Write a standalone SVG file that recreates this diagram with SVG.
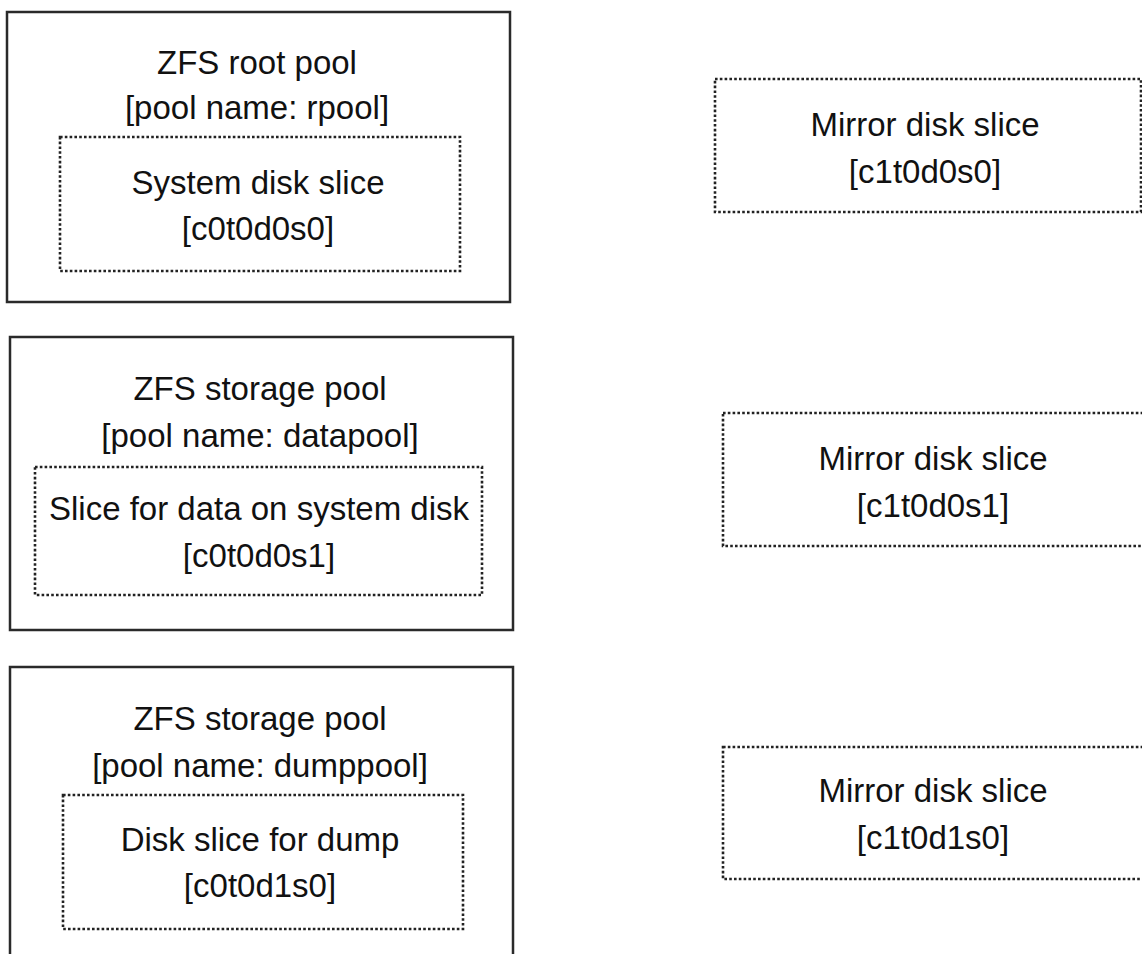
<svg xmlns="http://www.w3.org/2000/svg" width="1142" height="954" viewBox="0 0 1142 954">
  <style>
    .pool { fill: #ffffff; stroke: #2a2a2a; stroke-width: 2.5; }
    .slice { fill: none; stroke: #222222; stroke-width: 2.6; stroke-dasharray: 2.6 2.2; }
    .t { font-family: "Liberation Sans", Arial, sans-serif; font-size: 33px; fill: #111111; text-anchor: middle; }
  </style>
  <rect x="0" y="0" width="1142" height="954" fill="#ffffff"/>
  <g id="rpool">
    <rect class="pool" x="7" y="12" width="503" height="290"/>
    <text class="t" x="257" y="74">ZFS root pool</text>
    <text class="t" x="257" y="119">[pool name: rpool]</text>
  </g>
  <g id="slice-c0t0d0s0">
    <rect class="slice" x="60" y="137" width="400" height="134"/>
    <text class="t" x="258" y="194">System disk slice</text>
    <text class="t" x="258" y="240">[c0t0d0s0]</text>
  </g>
  <g id="datapool">
    <rect class="pool" x="10" y="337" width="503" height="293"/>
    <text class="t" x="260" y="400">ZFS storage pool</text>
    <text class="t" x="260" y="447">[pool name: datapool]</text>
  </g>
  <g id="slice-c0t0d0s1">
    <rect class="slice" x="35" y="467" width="447" height="128"/>
    <text class="t" x="259" y="520">Slice for data on system disk</text>
    <text class="t" x="259" y="567">[c0t0d0s1]</text>
  </g>
  <g id="dumppool">
    <rect class="pool" x="10" y="667" width="503" height="320"/>
    <text class="t" x="260" y="730">ZFS storage pool</text>
    <text class="t" x="260" y="777">[pool name: dumppool]</text>
  </g>
  <g id="slice-c0t0d1s0">
    <rect class="slice" x="63" y="795" width="400" height="134"/>
    <text class="t" x="260" y="851">Disk slice for dump</text>
    <text class="t" x="260" y="897">[c0t0d1s0]</text>
  </g>
  <g id="mirror-c1t0d0s0">
    <rect class="slice" x="715" y="79" width="426" height="133"/>
    <text class="t" x="925" y="136">Mirror disk slice</text>
    <text class="t" x="925" y="183">[c1t0d0s0]</text>
  </g>
  <g id="mirror-c1t0d0s1">
    <rect class="slice" x="723" y="413" width="440" height="133"/>
    <text class="t" x="933" y="470">Mirror disk slice</text>
    <text class="t" x="933" y="517">[c1t0d0s1]</text>
  </g>
  <g id="mirror-c1t0d1s0">
    <rect class="slice" x="723" y="747" width="440" height="132"/>
    <text class="t" x="933" y="802">Mirror disk slice</text>
    <text class="t" x="933" y="849">[c1t0d1s0]</text>
  </g>
  <g id="connectors"/>
</svg>
